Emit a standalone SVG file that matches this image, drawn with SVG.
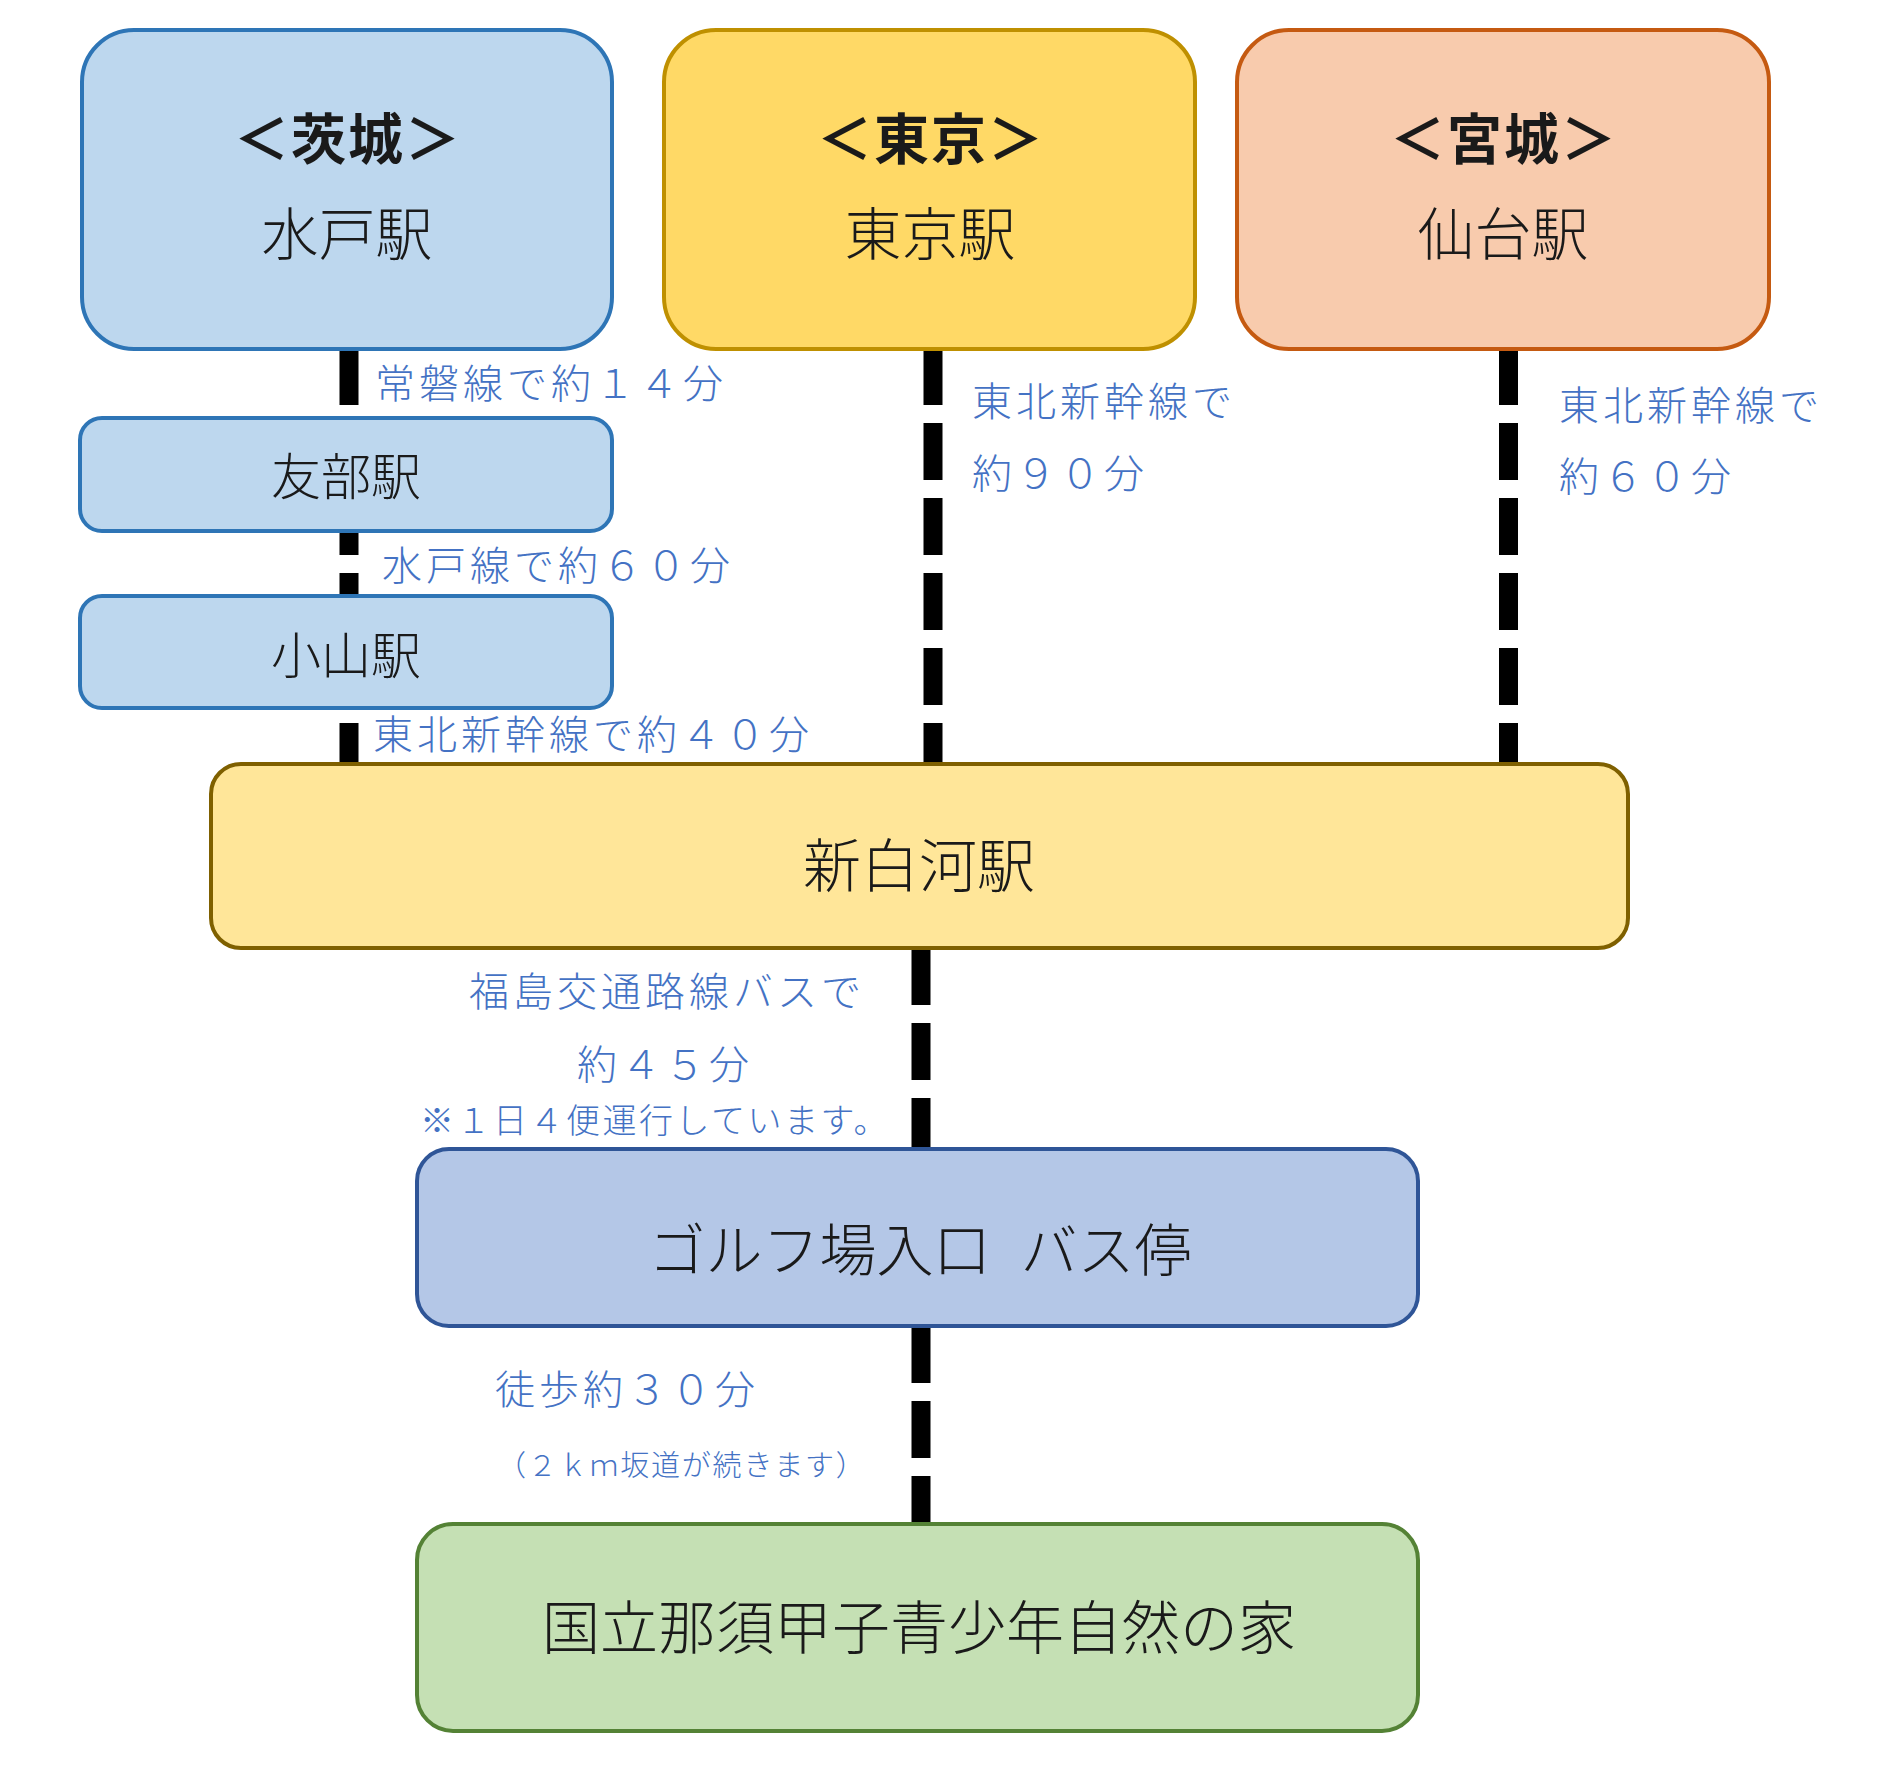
<svg xmlns="http://www.w3.org/2000/svg" width="1882" height="1765" viewBox="0 0 1882 1765">
<style>
.node{stroke-width:4}
.t{font-family:"Noto Sans CJK JP","Noto Sans",sans-serif;font-weight:300;fill:#1a1a1a;text-anchor:middle;dominant-baseline:central}
.h{font-weight:bold;font-size:55px;letter-spacing:2px}
.lbl{font-family:"Noto Sans CJK JP","Noto Sans",sans-serif;font-weight:300;fill:#4472C4;font-size:40px;letter-spacing:4px;dominant-baseline:central}
.conn{stroke:#000;stroke-width:19;stroke-dasharray:57 18;fill:none}
</style>
<rect width="1882" height="1765" fill="#fff"/>
<g id="connectors">
<line class="conn" x1="349" y1="348" x2="349" y2="762"/>
<line class="conn" x1="933" y1="348" x2="933" y2="762"/>
<line class="conn" x1="1508.5" y1="348" x2="1508.5" y2="762"/>
<line class="conn" x1="921" y1="948" x2="921" y2="1148"/>
<line class="conn" x1="921" y1="1326" x2="921" y2="1523"/>
</g>
<g id="ibaraki">
<rect class="node" x="82" y="30" width="530" height="319" rx="52" fill="#BDD7EE" stroke="#2E75B6"/>
<text class="t h" x="348" y="135">＜茨城＞</text>
<text class="t" x="347" y="230" font-size="57">水戸駅</text>
</g>
<g id="tokyo">
<rect class="node" x="664" y="30" width="531" height="319" rx="52" fill="#FFD966" stroke="#BF9000"/>
<text class="t h" x="931" y="135">＜東京＞</text>
<text class="t" x="930" y="230" font-size="57">東京駅</text>
</g>
<g id="miyagi">
<rect class="node" x="1237" y="30" width="532" height="319" rx="52" fill="#F8CBAD" stroke="#C55A11"/>
<text class="t h" x="1504" y="135">＜宮城＞</text>
<text class="t" x="1503" y="230" font-size="57">仙台駅</text>
</g>
<g id="tomobe">
<rect class="node" x="80" y="418" width="532" height="113" rx="22" fill="#BDD7EE" stroke="#2E75B6"/>
<text class="t" x="346" y="473" font-size="50">友部駅</text>
</g>
<g id="oyama">
<rect class="node" x="80" y="596" width="532" height="112" rx="22" fill="#BDD7EE" stroke="#2E75B6"/>
<text class="t" x="346" y="652" font-size="50">小山駅</text>
</g>
<g id="shinshirakawa">
<rect class="node" x="211" y="764" width="1417" height="184" rx="30" fill="#FFE699" stroke="#7F6000"/>
<text class="t" x="919" y="862" font-size="58">新白河駅</text>
</g>
<g id="busstop">
<rect class="node" x="417" y="1149" width="1001" height="177" rx="32" fill="#B4C7E7" stroke="#2F5597"/>
<text class="t" x="920" y="1246" font-size="57">ゴルフ場入口<tspan dx="30">バス停</tspan></text>
</g>
<g id="nasu">
<rect class="node" x="417" y="1524" width="1001" height="207" rx="36" fill="#C5E0B4" stroke="#548235"/>
<text class="t" x="919" y="1624" font-size="58">国立那須甲子青少年自然の家</text>
</g>
<g id="labels">
<text class="lbl" x="375" y="381">常磐線で約１４分</text>
<text class="lbl" x="382" y="563">水戸線で約６０分</text>
<text class="lbl" x="373" y="732">東北新幹線で約４０分</text>
<text class="lbl" x="972" y="399">東北新幹線で</text>
<text class="lbl" x="972" y="471">約９０分</text>
<text class="lbl" x="1559" y="403">東北新幹線で</text>
<text class="lbl" x="1559" y="474">約６０分</text>
<text class="lbl" x="469" y="989">福島交通路線バスで</text>
<text class="lbl" x="577" y="1062">約４５分</text>
<text class="lbl" x="420" y="1118" style="font-size:34px;letter-spacing:2.5px">※１日４便運行しています。</text>
<text class="lbl" x="497" y="1463" style="font-size:29px;letter-spacing:1.8px">（２ｋｍ坂道が続きます）</text>
<text class="lbl" x="495" y="1387">徒歩約３０分</text>
</g>
</svg>
